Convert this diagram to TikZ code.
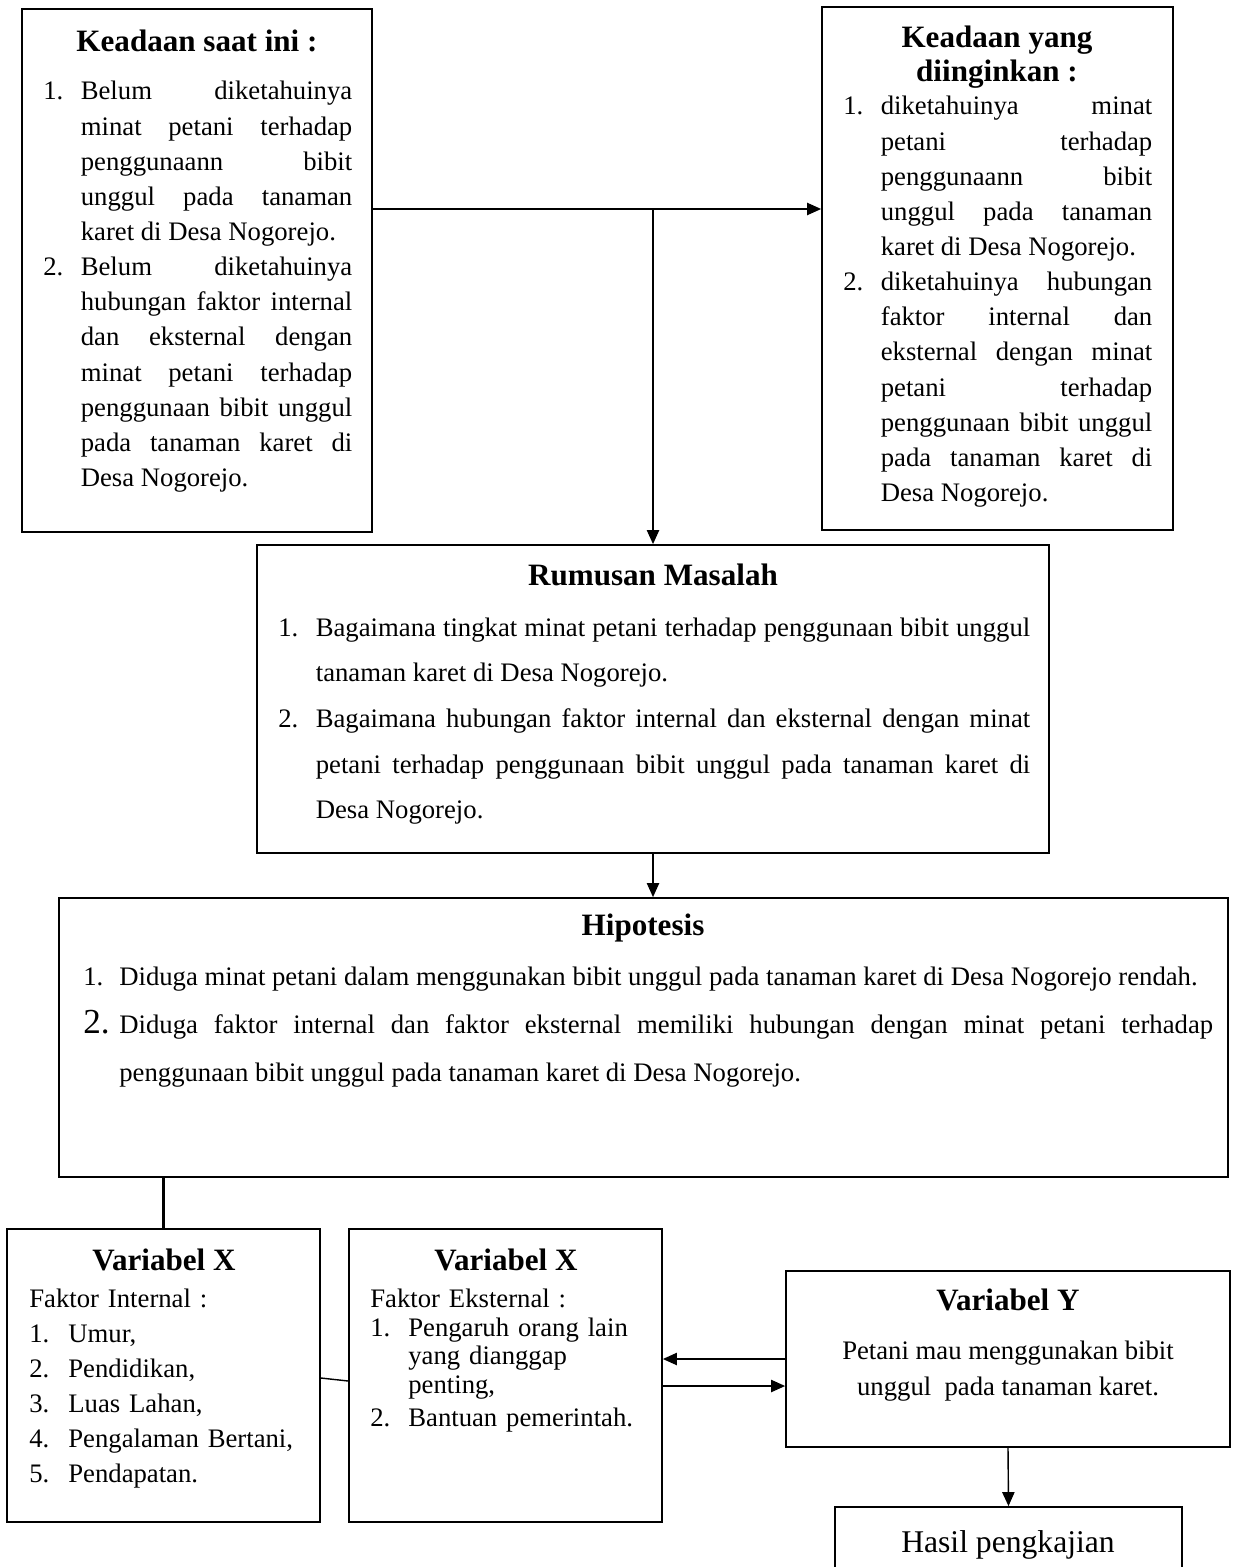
\documentclass[tikz,border=0pt]{standalone}
\usepackage{fontspec}
\setmainfont{Liberation Serif}
\usetikzlibrary{arrows.meta,fit}
\hyphenpenalty=10000
\tolerance=10000
\hbadness=10000

% butir daftar bernomor dengan indentasi gantung
\newcommand{\butir}[3][0.75cm]{\noindent\hangindent=#1\hangafter=1\makebox[#1][l]{#2}#3\par}

\begin{document}
\begin{tikzpicture}[
        x=0.02cm, y=-0.02cm,
        kotak/.style={draw=black, line width=1pt, inner sep=0pt},
        judul/.style={font=\fontsize{17.7}{19.8}\selectfont\bfseries, inner sep=0pt, anchor=base, align=center},
        isi/.style={font=\fontsize{15.2}{20}\selectfont, inner sep=0pt, anchor=base west, align=justify},
        panah/.style={line width=0.8pt, -{Triangle[length=8pt,width=7pt]}},
        garis/.style={line width=1.2pt},
        ]
        \clip (0,0) rectangle (1242,1567);
        \fill[white] (0,0) rectangle (1242,1567);

        % Kotak-kotak
        \node[kotak, fit={(22,9) (372,532)}] (saat) {};
        \node[kotak, fit={(822,7) (1173,530)}] (ingin) {};
        \node[kotak, fit={(257,545) (1049,853)}] (rumus) {};
        \node[kotak, fit={(59,898) (1228,1177)}] (hipo) {};
        \node[kotak, fit={(7,1229) (320,1522)}] (vx1) {};
        \node[kotak, fit={(349,1229) (662,1522)}] (vx2) {};
        \node[kotak, fit={(786,1271) (1230,1447)}] (vy) {};
        \node[kotak, fit={(835,1507) (1182,1620)}] (hasil) {};

        % Keadaan saat ini
        \node[judul] (saat-judul) at (197,52) {Keadaan saat ini :};
        \node[isi, text width=6.18cm] (saat-isi) at (43,100) {%
            \butir{1.}{Belum diketahuinya\linebreak minat petani terhadap\linebreak penggunaann bibit\linebreak unggul pada tanaman\linebreak karet di Desa Nogorejo.}
            \butir{2.}{Belum diketahuinya\linebreak hubungan faktor internal\linebreak dan eksternal dengan\linebreak minat petani terhadap\linebreak penggunaan bibit unggul\linebreak pada tanaman karet di\linebreak Desa Nogorejo.}};

        % Keadaan yang diinginkan
        \node[judul] (ingin-judul) at (997,82) {Keadaan yang\\diinginkan :};
        \node[isi, text width=6.18cm] (ingin-isi) at (843,115) {%
            \butir{1.}{diketahuinya minat\linebreak petani terhadap\linebreak penggunaann bibit\linebreak unggul pada tanaman\linebreak karet di Desa Nogorejo.}
            \butir{2.}{diketahuinya hubungan\linebreak faktor internal dan\linebreak eksternal dengan minat\linebreak petani terhadap\linebreak penggunaan bibit unggul\linebreak pada tanaman karet di\linebreak Desa Nogorejo.}};

        % Rumusan masalah
        \node[judul] (rumus-judul) at (653,585) {Rumusan Masalah};
        \node[isi, font=\fontsize{15.2}{26}\selectfont, text width=15.04cm] (rumus-isi) at (278,636) {%
            \butir{1.}{Bagaimana tingkat minat petani terhadap penggunaan bibit unggul\linebreak tanaman karet di Desa Nogorejo.}
            \butir{2.}{Bagaimana hubungan faktor internal dan eksternal dengan minat\linebreak petani terhadap penggunaan bibit unggul pada tanaman karet di\linebreak Desa Nogorejo.}};

        % Hipotesis
        \node[judul] (hipo-judul) at (643,935) {Hipotesis};
        \node[isi, font=\fontsize{15.2}{27.5}\selectfont, text width=22.6cm] (hipo-isi) at (83,985) {%
            \butir[0.72cm]{1.}{Diduga minat petani dalam menggunakan bibit unggul pada tanaman karet di Desa Nogorejo rendah.}
            \butir[0.72cm]{{\fontsize{20}{20}\selectfont 2.}}{Diduga faktor internal dan faktor eksternal memiliki hubungan dengan minat petani terhadap\linebreak penggunaan bibit unggul pada tanaman karet di Desa Nogorejo.}};

        % Variabel X (internal)
        \node[judul] (vx1-judul) at (164,1270) {Variabel X};
        \node[isi, align=left, text width=5.62cm] (vx1-isi) at (29,1307) {%
            Faktor Internal :\par
            \butir[0.78cm]{1.}{Umur,}
            \butir[0.78cm]{2.}{Pendidikan,}
            \butir[0.78cm]{3.}{Luas Lahan,}
            \butir[0.78cm]{4.}{Pengalaman Bertani,}
            \butir[0.78cm]{5.}{Pendapatan.}};

        % Variabel X (eksternal)
        \node[judul] (vx2-judul) at (506,1270) {Variabel X};
        \node[isi, font=\fontsize{15.2}{16}\selectfont, align=left, text width=5.6cm] (vx2-isi) at (370,1307) {%
            Faktor Eksternal :\par\vspace{1pt}
            \butir[0.76cm]{1.}{Pengaruh orang lain\newline yang dianggap\newline penting,}\vspace{3pt}
            \butir[0.76cm]{2.}{Bantuan pemerintah.}};

        % Variabel Y
        \node[judul] (vy-judul) at (1008,1310) {Variabel Y};
        \node[isi, anchor=base, align=center] (vy-isi) at (1008,1395) {Petani mau menggunakan bibit\\unggul\ \ pada tanaman karet.};

        % Hasil
        \node[isi, font=\fontsize{18}{20}\selectfont, anchor=base] (hasil-isi) at (1008,1552) {Hasil pengkajian};

        % Penghubung
        \coordinate (cabang) at (653,209);
        \draw[panah] (saat.east |- cabang) -- (ingin.west |- cabang);
        \draw[panah] (cabang) -- (rumus.north);
        \draw[panah] (rumus.south) -- (rumus.south |- hipo.north);
        \draw[garis] (vx1.north |- hipo.south) -- (vx1.north);
        \draw[line width=0.8pt] ([yshift=-0.05cm]vx1.east) -- ([yshift=-0.11cm]vx2.west);
        \draw[panah] (vy.west) -- (vy.west -| vx2.east);
        \draw[panah] ([yshift=-0.21cm]vx2.east) -- ([yshift=-0.21cm]vx2.east -| vy.west);
        \draw[panah] (vy.south) -- (hasil.north);

    \end{tikzpicture}
\end{document}
